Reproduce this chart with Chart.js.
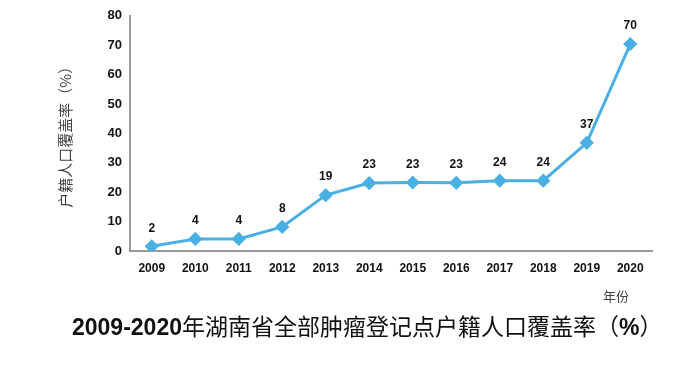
<!DOCTYPE html>
<html>
<head>
<meta charset="utf-8">
<script src="https://cdn.jsdelivr.net/npm/chart.js@4"></script>
<style>
  html, body { margin:0; padding:0; background:#fff; }
  #wrap { position:relative; width:700px; height:368px; }
  #chart { position:absolute; left:0; top:0; }
  .unit { position:absolute; left:603px; top:286px; font:13px "Noto Sans CJK SC", sans-serif; color:#404040; }
  .title { position:absolute; left:72px; top:308px; font:23px "Noto Sans CJK SC", sans-serif; color:#111; white-space:nowrap; }
  .title b { font-family:"Liberation Sans", Arial, sans-serif; font-weight:bold; }
</style>
</head>
<body>
<div id="wrap">
  <canvas id="chart" width="700" height="368"></canvas>
  <div class="unit">年份</div>
  <div class="title"><b>2009-2020</b>年湖南省全部肿瘤登记点户籍人口覆盖率（<b>%</b>）</div>
</div>
<script>
/* ===== Data ===== */
const years = ['2009','2010','2011','2012','2013','2014','2015','2016','2017','2018','2019','2020'];
const coverage = [1.6, 4.1, 4.1, 8.2, 19.0, 23.1, 23.3, 23.2, 23.9, 23.9, 36.8, 70.4];
const yTicks = [0, 10, 20, 30, 40, 50, 60, 70, 80];
const yTitle = '户籍人口覆盖率（%）';

const lineColor = '#4aafe3';

// labels above points (no datalabels plugin offline)
const pointLabels = {
  id: 'pointLabels',
  afterDatasetsDraw(chart){
    const ctx = chart.ctx;
    const meta = chart.getDatasetMeta(0);
    ctx.save();
    ctx.font = 'bold 12px "Liberation Sans", Arial, sans-serif';
    ctx.fillStyle = '#111';
    ctx.textAlign = 'center';
    ctx.textBaseline = 'middle';
    meta.data.forEach((pt, i)=>{
      ctx.fillText(String(Math.round(coverage[i])), pt.x, pt.y - 18);
    });
    ctx.restore();
  }
};

new Chart(document.getElementById('chart'), {
  type: 'line',
  data: {
    labels: years,
    datasets: [{
      data: coverage,
      borderColor: lineColor,
      backgroundColor: lineColor,
      borderWidth: 3,
      pointStyle: 'rectRot',
      pointRadius: 5,
      tension: 0
    }]
  },
  options: {
    responsive: false,
    animation: false,
    layout: { padding: { top: 11, right: 48, bottom: 0, left: 0 } },
    plugins: { legend: { display:false }, tooltip: { enabled:false } },
    scales: {
      x: {
        offset: true,
        grid: { display:false, drawTicks:false },
        border: { color:'#999', width:2 },
        ticks: { color:'#111', font:{ family:'"Liberation Sans", Arial, sans-serif', size:12, weight:'bold' }, padding:10, maxRotation:0 },
        afterFit: s => { s.height = 117; }
      },
      y: {
        min: 0, max: 80,
        afterBuildTicks: s => { s.ticks = yTicks.map(v => ({ value:v })); },
        grid: { display:false, drawTicks:false },
        border: { color:'#999', width:2 },
        ticks: { color:'#111', font:{ family:'"Liberation Sans", Arial, sans-serif', size:13, weight:'bold' }, padding:8 },
        title: { display:true, text:yTitle, color:'#404040', font:{ family:'"Noto Sans CJK SC", sans-serif', size:15 }, padding:{ top:56, bottom:0 } },
        afterFit: s => { s.width = 130; }
      }
    }
  },
  plugins: [pointLabels]
});
</script>
</body>
</html>
